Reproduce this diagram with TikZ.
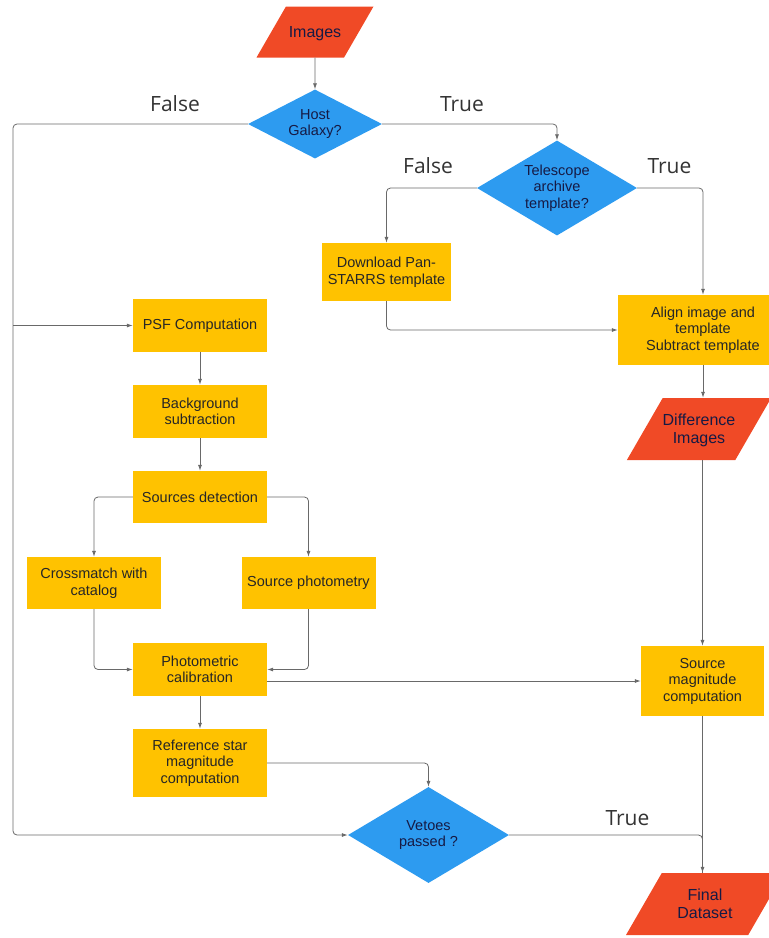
\documentclass[tikz,border=0pt]{standalone}
\usepackage{fontspec}
\setmainfont{Liberation Sans}
\newfontfamily\labelfont{Open Sans}
\usepackage{xcolor}
\usepackage{tikz}
\usetikzlibrary{shapes.geometric,arrows.meta}

\definecolor{boxOrange}{RGB}{255,194,0}
\definecolor{ioRed}{RGB}{240,74,38}
\definecolor{decBlue}{RGB}{45,155,240}
\definecolor{lineGray}{RGB}{105,105,105}
\definecolor{inkNavy}{RGB}{22,26,68}

\begin{document}
\begin{tikzpicture}[x=1pt,y=1pt,yscale=-1,xscale=1,
  proc/.style={rectangle, fill=boxOrange, minimum width=134pt, minimum height=53pt, inner sep=2pt, align=center, text=black!85, font=\fontsize{14.5}{16.5}\selectfont},
  decision/.style={diamond, shape aspect=2, fill=decBlue, inner sep=0pt, align=center, text=inkNavy, font=\fontsize{14.5}{16.5}\selectfont},
  io/.style={trapezium, trapezium left angle=60, trapezium right angle=120, trapezium stretches body, fill=ioRed, inner sep=0pt, align=center, text=inkNavy, font=\fontsize{16}{18}\selectfont},
  ioone/.style={io, text height=31.25pt, text depth=19.75pt},
  iotwo/.style={io, text height=45.7pt, text depth=16.3pt},
  link/.style={draw=lineGray, line width=0.8pt, rounded corners=4pt},
  arr/.style={link, -{Latex[length=6pt,width=4pt]}},
  tflabel/.style={inner sep=0pt, text=black!80, font=\labelfont\fontsize{21}{24}\selectfont}]
\useasboundingbox (0,0) rectangle (769,938);
\clip (0,0) rectangle (769,938);

% Top: input and first decision
\node[ioone, minimum width=117pt] (images) at (315,32) {Images};
\node[decision, minimum width=134pt, minimum height=69pt] (host) at (315,124) {Host\\Galaxy?};
\node[decision, minimum width=160pt, minimum height=95pt] (tele) at (557,188) {Telescope\\archive\\template?};

% Right column
\node[proc, minimum width=129pt, minimum height=58pt] (download) at (386.5,272) {Download Pan-\\STARRS template};
\node[proc, minimum width=170pt, minimum height=70pt] (align) at (703,330) {Align image and\\template\\Subtract template};
\node[iotwo, minimum width=141pt] (diff) at (699,429) {Difference\\Images};
\node[proc, minimum width=123pt, minimum height=70pt] (srcmag) at (702.5,681) {Source\\magnitude\\computation};
\node[iotwo, minimum width=158pt] (final) at (705,904) {Final\\Dataset};

% Left column
\node[proc] (psf) at (200,325.5) {PSF Computation};
\node[proc] (bgsub) at (200,411.5) {Background\\subtraction};
\node[proc, minimum height=52pt] (detect) at (200,497) {Sources detection};
\node[proc, minimum height=52pt] (xmatch) at (94,583) {Crossmatch with\\catalog};
\node[proc, minimum height=52pt] (phot) at (308.5,583) {Source photometry};
\node[proc] (calib) at (200,669.5) {Photometric\\calibration};
\node[proc, minimum height=68pt] (refmag) at (200,763) {Reference star\\magnitude\\computation};
\node[decision, minimum width=161pt, minimum height=96pt] (vetoes) at (428.5,835) {Vetoes\\passed ?};

% Branch labels
\node[tflabel] (hostFalse) at (175,104) {False};
\node[tflabel] (hostTrue) at (462,104) {True};
\node[tflabel] (teleFalse) at (428,166) {False};
\node[tflabel] (teleTrue) at (669.5,166) {True};
\node[tflabel] (vetoTrue) at (627.5,818.5) {True};

\coordinate (loopTurn) at (13,325.5);

% Connectors
\draw[arr] (images) -- (host);
\draw[link] (host.west) -| (loopTurn);
\draw[arr] (loopTurn) -- (psf.west);
\draw[arr] (loopTurn) |- (vetoes.west);
\draw[arr] (host.east) -| (tele.north);
\draw[arr] (tele.west) -| (download.north);
\draw[arr] (tele.east) -| (align.north);
\draw[arr] (download.south) |- (align.west);
\draw[arr] (align.south) -- (align.south |- diff.north);
\draw[arr] (diff.south -| srcmag.north) -- (srcmag.north);
\draw[arr] (srcmag.south) -- (final.north -| srcmag.south);
\draw[link] (vetoes.east) -| (final.north -| srcmag.south);

\draw[arr] (psf) -- (bgsub);
\draw[arr] (bgsub) -- (detect);
\draw[arr] (detect.west) -| (xmatch.north);
\draw[arr] (detect.east) -| (phot.north);
\draw[arr] (xmatch.south) |- (calib.west);
\draw[arr] (phot.south) |- (calib.east);
\draw[arr] (calib.east |- srcmag.west) -- (srcmag.west);
\draw[arr] (calib) -- (refmag);
\draw[arr] (refmag.east) -| (vetoes.north);

\end{tikzpicture}
\end{document}
